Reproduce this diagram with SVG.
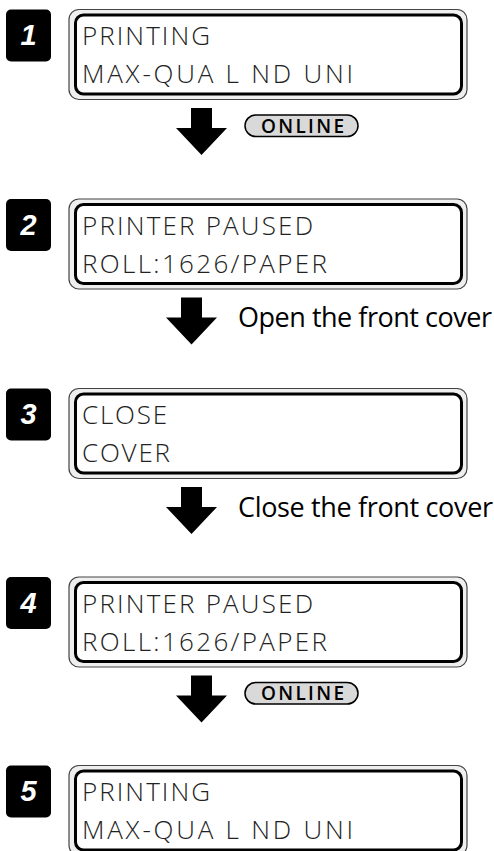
<svg xmlns="http://www.w3.org/2000/svg" width="494" height="851" viewBox="0 0 494 851">
<defs>
<style>
.outer{fill:#efefef;stroke:#444;stroke-width:1.2}
.inner{fill:#fff;stroke:#000;stroke-width:3}
.badge{fill:#000}
.num{fill:#fff;font-family:"Liberation Sans",Arial,sans-serif;font-weight:bold;font-style:italic;font-size:29px;text-anchor:middle}
.lcd{fill:#222;font-family:"Open Sans","DejaVu Sans",sans-serif;font-weight:300;font-size:26px}
.arrow{fill:#000}
.pill{fill:#d9d9d9;stroke:#000;stroke-width:1.5}
.pilltxt{fill:#000;font-family:"Open Sans","Liberation Sans",sans-serif;font-weight:600;font-size:19px}
.cap{fill:#000;font-family:"Open Sans","DejaVu Sans",sans-serif;font-size:27px}
</style>
</defs>
<rect width="494" height="851" fill="#fff"/>

<g id="step1">
<rect class="badge" x="6" y="9.5" width="45" height="52" rx="5"/>
<text class="num" x="28.5" y="45">1</text>
<rect class="outer" x="69" y="9.5" width="398" height="90" rx="10"/>
<rect class="inner" x="75.5" y="15" width="386" height="79" rx="8"/>
<text class="lcd" x="82" y="45" textLength="128" lengthAdjust="spacing">PRINTING</text>
<text class="lcd" x="82" y="83" textLength="271" lengthAdjust="spacing">MAX-QUA L ND UNI</text>
</g>

<g id="step2">
<rect class="badge" x="6" y="199" width="45" height="52" rx="5"/>
<text class="num" x="28.5" y="234.5">2</text>
<rect class="outer" x="69" y="199" width="398" height="90" rx="10"/>
<rect class="inner" x="75.5" y="204.5" width="386" height="79" rx="8"/>
<text class="lcd" x="82" y="234.5" textLength="231" lengthAdjust="spacing">PRINTER PAUSED</text>
<text class="lcd" x="82" y="272.5" textLength="245" lengthAdjust="spacing">ROLL:1626/PAPER</text>
</g>

<g id="step3">
<rect class="badge" x="6" y="388.5" width="45" height="52" rx="5"/>
<text class="num" x="28.5" y="424">3</text>
<rect class="outer" x="69" y="388.5" width="398" height="90" rx="10"/>
<rect class="inner" x="75.5" y="394" width="386" height="79" rx="8"/>
<text class="lcd" x="82" y="424" textLength="85" lengthAdjust="spacing">CLOSE</text>
<text class="lcd" x="82" y="462" textLength="88" lengthAdjust="spacing">COVER</text>
</g>

<g id="step4">
<rect class="badge" x="6" y="577" width="45" height="52" rx="5"/>
<text class="num" x="28.5" y="612.5">4</text>
<rect class="outer" x="69" y="577" width="398" height="90" rx="10"/>
<rect class="inner" x="75.5" y="582.5" width="386" height="79" rx="8"/>
<text class="lcd" x="82" y="612.5" textLength="231" lengthAdjust="spacing">PRINTER PAUSED</text>
<text class="lcd" x="82" y="650.5" textLength="245" lengthAdjust="spacing">ROLL:1626/PAPER</text>
</g>

<g id="step5">
<rect class="badge" x="6" y="765.5" width="45" height="52" rx="5"/>
<text class="num" x="28.5" y="801">5</text>
<rect class="outer" x="69" y="765.5" width="398" height="90" rx="10"/>
<rect class="inner" x="75.5" y="771" width="386" height="79" rx="8"/>
<text class="lcd" x="82" y="801" textLength="128" lengthAdjust="spacing">PRINTING</text>
<text class="lcd" x="82" y="839" textLength="271" lengthAdjust="spacing">MAX-QUA L ND UNI</text>
</g>

<g id="connectors">
<polygon class="arrow" points="191,108 212,108 212,128 227,128 201.5,155 176,128 191,128"/>
<rect class="pill" x="245" y="115" width="113" height="21.5" rx="10.75"/>
<text class="pilltxt" x="261" y="132.5" textLength="83" lengthAdjust="spacing">ONLINE</text>

<polygon class="arrow" points="181,297.5 202,297.5 202,317.5 217,317.5 191.5,344.5 166,317.5 181,317.5"/>
<text class="cap" x="238" y="327" textLength="254" lengthAdjust="spacing">Open the front cover</text>

<polygon class="arrow" points="181,487 202,487 202,507 217,507 191.5,534 166,507 181,507"/>
<text class="cap" x="238" y="516.5" textLength="255" lengthAdjust="spacing">Close the front cover</text>

<polygon class="arrow" points="191,675.5 212,675.5 212,695.5 227,695.5 201.5,722.5 176,695.5 191,695.5"/>
<rect class="pill" x="245" y="682.5" width="113" height="21.5" rx="10.75"/>
<text class="pilltxt" x="261" y="700" textLength="83" lengthAdjust="spacing">ONLINE</text>
</g>
</svg>
